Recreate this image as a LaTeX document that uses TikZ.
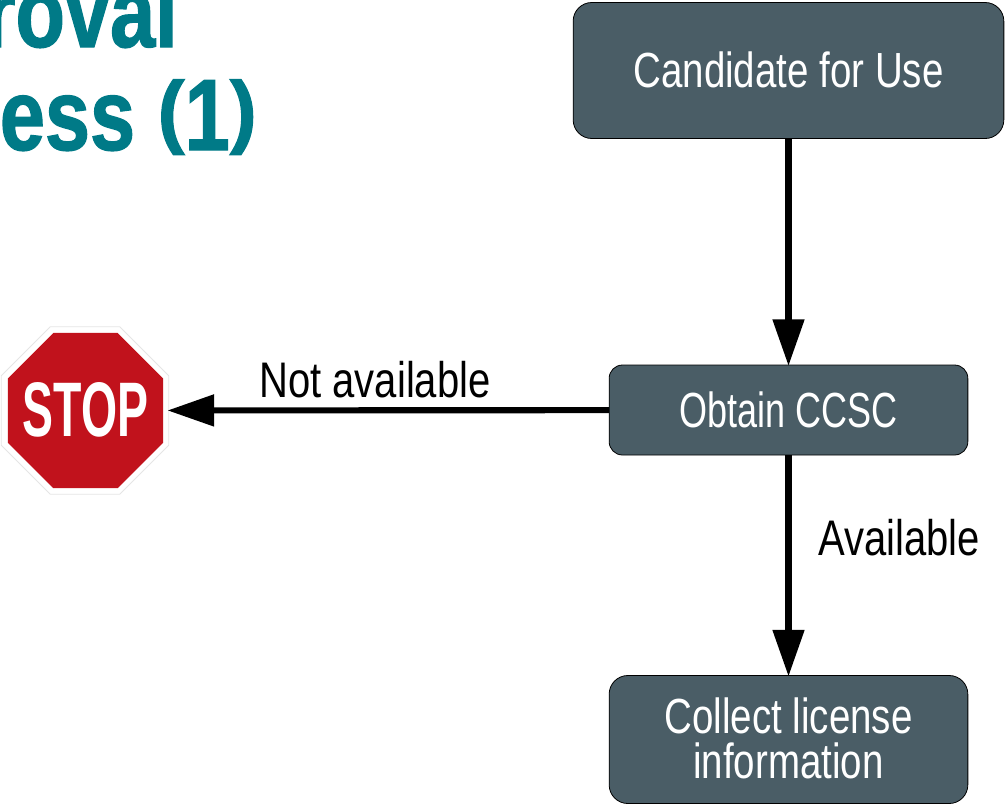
\documentclass[tikz,border=0pt]{standalone}
\usepackage{fontspec}
\setmainfont{Liberation Sans}
\usetikzlibrary{arrows.meta,shapes.geometric}
\definecolor{boxfill}{HTML}{4A5D66}
\definecolor{teal}{HTML}{007A87}
\definecolor{stopred}{HTML}{C1121C}
\newfontfamily\condfont[FakeStretch=0.78]{Liberation Sans}
\newfontfamily\labfont[FakeStretch=0.8]{Liberation Sans}
\newfontfamily\titlefont[FakeStretch=0.8,FakeBold=1.2]{Liberation Sans Bold}
\newfontfamily\stopfont[FakeStretch=0.6]{Liberation Sans Bold}
\newcommand{\shortparen}[1]{\raisebox{9pt}{\scalebox{1}[0.8]{#1}}}
\tikzset{
 flowbox/.style={draw=black,line width=0.6pt,fill=boxfill,text=white,rounded corners=14pt,align=center,font=\fontsize{37}{34}\condfont,inner sep=0pt},
 conn/.style={line width=4.6pt,draw=black,-{Triangle[length=35pt,width=23pt]},shorten >=-1pt},
 lab/.style={font=\fontsize{37.5}{34}\labfont,text=black,inner sep=0pt},
 titletext/.style={font=\fontsize{76}{76}\titlefont,text=teal,inner sep=0pt,anchor=base east},
 signback/.style={regular polygon,regular polygon sides=8,minimum size=136pt,inner sep=0pt,outer sep=0pt,fill=white,draw=black!10,line width=0.6pt},
 signface/.style={regular polygon,regular polygon sides=8,minimum size=126pt,inner sep=0pt,outer sep=0pt,fill=stopred},
 signtext/.style={inner sep=0pt,text=white,font=\fontsize{58}{58}\stopfont}
}
\begin{document}
\begin{tikzpicture}[x=0.75pt,y=-0.75pt]
\useasboundingbox (0,0) rectangle (1005,804);
\clip (0,0) rectangle (1005,804);
\node[titletext] (t1) at (178,47) {roval};
\node[titletext] (t2) at (257,150) {cess \shortparen{(}1\shortparen{)}};
\node[flowbox,minimum width=323pt,minimum height=102pt] (a) at (788.5,70.5) {\raisebox{2pt}{Candidate for Use}};
\node[flowbox,rounded corners=10pt,minimum width=269pt,minimum height=67.5pt] (b) at (788.5,410) {\addfontfeature{FakeStretch=0.73}Obtain CCSC};
\node[flowbox,minimum width=269pt,minimum height=96pt] (c) at (788.5,739.5) {\raisebox{2pt}{Collect license}\\\raisebox{2pt}{information}};
\node[signback] (sb) at (85,410.5) {};
\node[signface] (sf) at (85.5,410.5) {};
\node[signtext] (s) at (85.5,410) {STOP};
\draw[conn] (a) -- (b);
\draw[conn] (b) -- (c);
\draw[conn] (b) -- (sb);
\node[lab] (n) at (375,380) {Not available};
\node[lab] (v) at (899,538) {Available};
\end{tikzpicture}
\end{document}
